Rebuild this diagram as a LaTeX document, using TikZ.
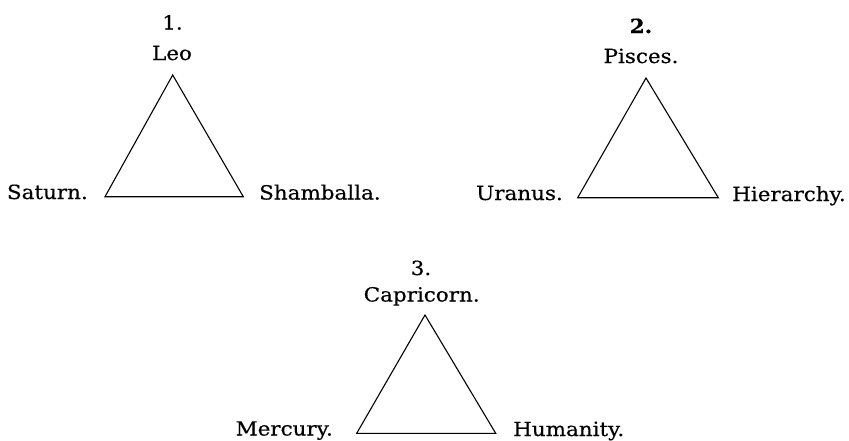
\documentclass[tikz,border=0pt]{standalone}
\usepackage{fontspec}
\setmainfont[FakeStretch=1.1,FakeBold=0.5]{DejaVu Serif}
\begin{document}
\begin{tikzpicture}[x=1pt,y=-1pt,
  lbl/.style={inner sep=0pt,font=\fontsize{19.5}{23}\selectfont},
  tri/.style={line width=1.1pt,line join=miter}]
\useasboundingbox (0,0) rectangle (849,440);
% triangle 1
\coordinate (a1) at (172.7,75);
\coordinate (b1) at (105,196.7);
\coordinate (c1) at (243.3,196.7);
\draw[tri] (a1) -- (b1) -- (c1) -- cycle;
\node[lbl,anchor=base] (n1) at (172.5,29.5) {1.};
\node[lbl,anchor=base] (leo) at (172,60) {Leo};
\node[lbl,anchor=base east] (sat) at (88,199) {Saturn.};
\node[lbl,anchor=base west] (sham) at (259,199.5) {Shamballa.};
% triangle 2
\coordinate (a2) at (646,78);
\coordinate (b2) at (577.7,197.7);
\coordinate (c2) at (718.3,197.7);
\draw[tri] (a2) -- (b2) -- (c2) -- cycle;
\node[lbl,anchor=base] (n2) at (641,33) {\textbf{2.}};
\node[lbl,anchor=base] (pis) at (641,63) {Pisces.};
\node[lbl,anchor=base east] (ura) at (563,200) {Uranus.};
\node[lbl,anchor=base west] (hie) at (732,201) {Hierarchy.};
% triangle 3
\coordinate (a3) at (425,315);
\coordinate (b3) at (356.7,433.3);
\coordinate (c3) at (495.7,433.3);
\draw[tri] (a3) -- (b3) -- (c3) -- cycle;
\node[lbl,anchor=base] (n3) at (421,275) {3.};
\node[lbl,anchor=base] (cap) at (421.7,301.5) {Capricorn.};
\node[lbl,anchor=base east] (mer) at (333,435.5) {Mercury.};
\node[lbl,anchor=base west] (hum) at (513,436) {Humanity.};
\end{tikzpicture}
\end{document}
